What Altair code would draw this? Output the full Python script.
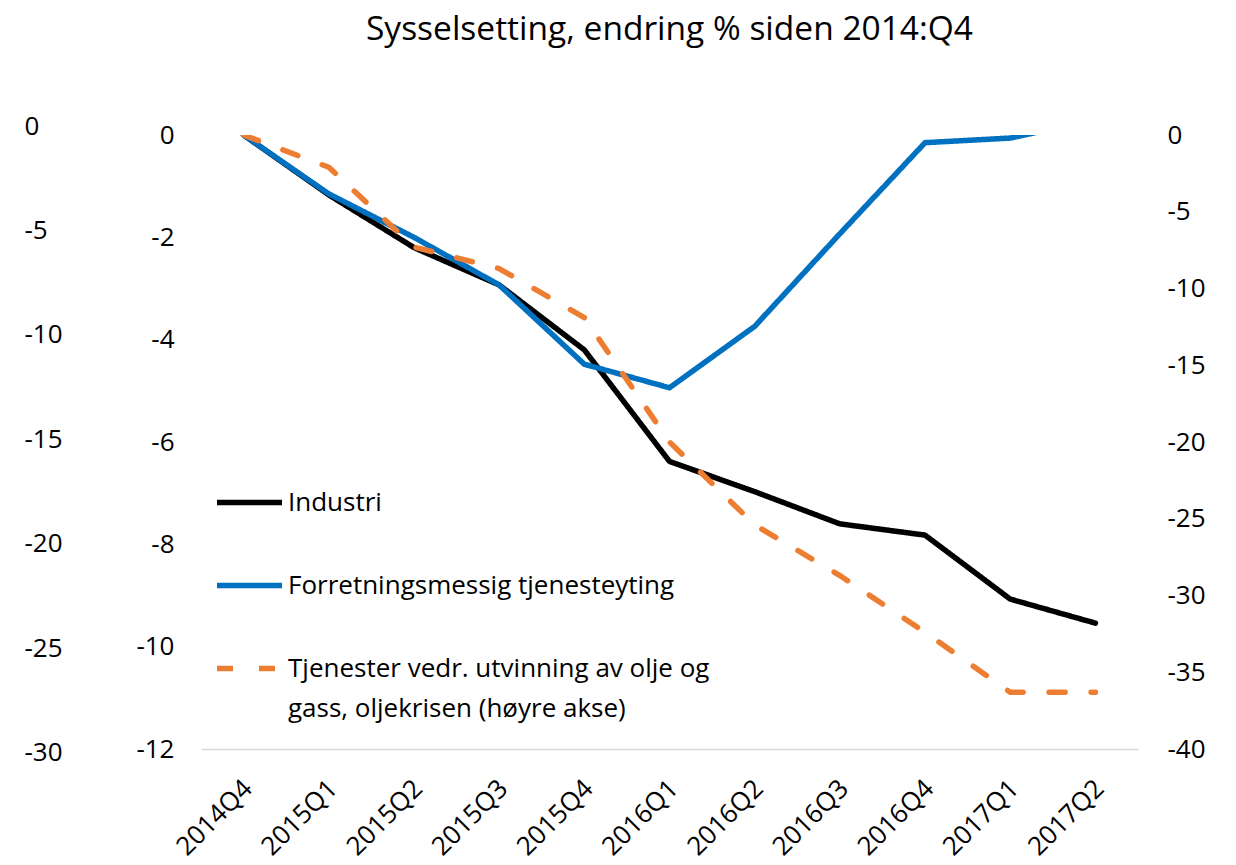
import altair as alt
import pandas as pd

# ---------------- data ----------------
quarters = ["2014Q4", "2015Q1", "2015Q2", "2015Q3", "2015Q4", "2016Q1",
            "2016Q2", "2016Q3", "2016Q4", "2017Q1", "2017Q2"]
industri = [0, -1.17, -2.2, -2.93, -4.2, -6.38, -6.97, -7.6, -7.82, -9.07, -9.54]
forretning = [0, -1.15, -2.0, -2.93, -4.48, -4.94, -3.74, -1.93, -0.15, -0.06, 0.3]
tjenester = [0, -2.1, -7.3, -8.7, -11.9, -20.0, -25.4, -28.7, -32.4, -36.3, -36.3]

left_ticks = [0, -2, -4, -6, -8, -10, -12]
right_ticks = [0, -5, -10, -15, -20, -25, -30, -35, -40]
outer_ticks = [0, -5, -10, -15, -20, -25, -30]

names = ["Industri",
         "Forretningsmessig tjenesteyting",
         "Tjenester vedr. utvinning av olje og\ngass, oljekrisen (høyre akse)"]
colors = ["#000000", "#0070C0", "#ED7D31"]
dashes = [[1, 0], [1, 0], [16, 26]]

title_text = "Sysselsetting, endring % siden 2014:Q4"

left_df = pd.DataFrame({
    "kvartal": quarters * 2,
    "verdi": industri + forretning,
    "serie": [names[0]] * len(quarters) + [names[1]] * len(quarters),
})
right_df = pd.DataFrame({"kvartal": quarters, "verdi": tjenester,
                         "serie": [names[2]] * len(quarters)})
outer_df = pd.DataFrame({"v": outer_ticks})

FONT = "Open Sans"
FS = 26
TXT = "#000000"

x_enc = alt.X(
    "kvartal:O", sort=quarters, scale=alt.Scale(domain=quarters),
    axis=alt.Axis(title=None, labelAngle=-45, labelAlign="right",
                  labelBaseline="middle", labelPadding=35, labelOffset=4,
                  ticks=False, tickSize=0, domainColor="#D9D9D9",
                  domainWidth=1.5, labelFontSize=FS, labelFont=FONT,
                  labelColor=TXT, grid=False, labelOverlap=False),
)

legend = alt.Legend(title=None, labelExpr="split(datum.label, '\\n')")
color_enc = alt.Color("serie:N", scale=alt.Scale(domain=names, range=colors),
                      legend=legend)
dash_enc = alt.StrokeDash("serie:N", scale=alt.Scale(domain=names, range=dashes),
                          legend=legend)

def yaxis(orient, values, pad, align=None):
    kw = dict(orient=orient, values=values, title=None, domain=False,
              ticks=False, tickSize=0, grid=False, labelPadding=pad,
              labelFontSize=FS, labelFont=FONT, labelColor=TXT,
              labelExpr="'' + datum.value")
    if align:
        kw["labelAlign"] = align
    return alt.Axis(**kw)

left = alt.Chart(left_df).mark_line(
    strokeWidth=5.5, strokeCap="round", strokeJoin="round", clip=True
).encode(
    x=x_enc,
    y=alt.Y("verdi:Q", scale=alt.Scale(domain=[-12, 0], nice=False),
            axis=yaxis("left", left_ticks, 27)),
    color=color_enc,
    strokeDash=dash_enc,
)

right = alt.Chart(right_df).mark_line(
    strokeWidth=5.5, strokeCap="round", strokeJoin="round", clip=True
).encode(
    x=x_enc,
    y=alt.Y("verdi:Q", scale=alt.Scale(domain=[-40, 0], nice=False),
            axis=yaxis("right", right_ticks, 29)),
    color=color_enc,
    strokeDash=dash_enc,
)

outer = alt.Chart(outer_df).mark_point(opacity=0).encode(
    y=alt.Y("v:Q", scale=alt.Scale(domain=[-30, 0], range=[617.5, -9], nice=False),
            axis=yaxis("left", outer_ticks, 177, align="left")),
)

chart = alt.layer(left, right, outer).resolve_scale(
    y="independent"
).properties(
    width=937, height=614,
    autosize=alt.AutoSizeParams(type="none"),
    padding={"left": 193, "top": 127, "right": 80, "bottom": 114},
    title=alt.Title(title_text, fontSize=33.5, font=FONT, fontWeight="normal",
                    color=TXT, anchor="middle", offset=66),
).configure(
    style={"guide-label": {"lineHeight": 40}}
).configure_view(stroke=None).configure_legend(
    orient="none", legendX=13, legendY=332, symbolType="stroke",
    symbolSize=4225, symbolStrokeWidth=5.5, labelFontSize=FS, labelFont=FONT,
    labelColor=TXT, labelLimit=900, rowPadding=34, padding=0, labelOffset=3,
)

chart.save("out.html", embed_options={"renderer": "svg", "actions": False})
